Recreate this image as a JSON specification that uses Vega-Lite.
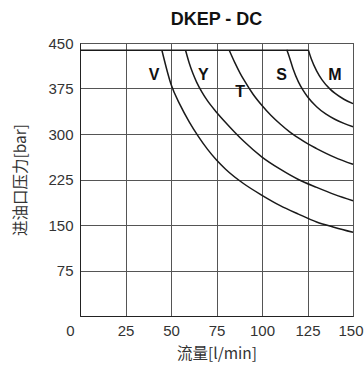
{
  "$schema": "https://vega.github.io/schema/vega-lite/v6.json",
  "autosize": "none",
  "width": 273,
  "height": 273,
  "padding": {"left": 80, "top": 43, "right": 11, "bottom": 54},
  "title": {"text": "DKEP - DC", "font": "Liberation Sans", "fontSize": 18, "fontWeight": "bold", "color": "#111", "offset": 7, "anchor": "middle"},
  "config": {
    "view": {"stroke": "#333", "strokeWidth": 1},
    "font": "Liberation Sans",
    "axis": {"labelFont": "Liberation Sans", "labelFontSize": 15, "labelColor": "#333", "titleFont": "Noto Sans CJK SC", "titleFontSize": 15.5, "titleFontWeight": "normal", "titleColor": "#333", "ticks": false, "domainColor": "#222", "gridColor": "#555", "gridOpacity": 1, "gridWidth": 1}
  },
  "datasets": {
    "curves": [
      {"s": "top", "q": 0, "p": 438}, {"s": "top", "q": 125.5, "p": 438},
      {"s": "V", "q": 45, "p": 438}, {"s": "V", "q": 50, "p": 382}, {"s": "V", "q": 55, "p": 348}, {"s": "V", "q": 60, "p": 320}, {"s": "V", "q": 65, "p": 296}, {"s": "V", "q": 70, "p": 275}, {"s": "V", "q": 75, "p": 257}, {"s": "V", "q": 80, "p": 242}, {"s": "V", "q": 90, "p": 218}, {"s": "V", "q": 100, "p": 199}, {"s": "V", "q": 110, "p": 182}, {"s": "V", "q": 120, "p": 168}, {"s": "V", "q": 130, "p": 155}, {"s": "V", "q": 140, "p": 146}, {"s": "V", "q": 150, "p": 138},
      {"s": "Y", "q": 58, "p": 438}, {"s": "Y", "q": 60, "p": 417}, {"s": "Y", "q": 62, "p": 400}, {"s": "Y", "q": 64, "p": 386}, {"s": "Y", "q": 67, "p": 369}, {"s": "Y", "q": 70, "p": 355}, {"s": "Y", "q": 75, "p": 336}, {"s": "Y", "q": 80, "p": 319}, {"s": "Y", "q": 85, "p": 303}, {"s": "Y", "q": 90, "p": 288}, {"s": "Y", "q": 100, "p": 262}, {"s": "Y", "q": 110, "p": 242}, {"s": "Y", "q": 120, "p": 225}, {"s": "Y", "q": 130, "p": 212}, {"s": "Y", "q": 140, "p": 200}, {"s": "Y", "q": 150, "p": 190},
      {"s": "T", "q": 82, "p": 438}, {"s": "T", "q": 85, "p": 418}, {"s": "T", "q": 88, "p": 400}, {"s": "T", "q": 90, "p": 389.5}, {"s": "T", "q": 95, "p": 366}, {"s": "T", "q": 100, "p": 347}, {"s": "T", "q": 105, "p": 330.5}, {"s": "T", "q": 110, "p": 316.5}, {"s": "T", "q": 115, "p": 304}, {"s": "T", "q": 120, "p": 293.5}, {"s": "T", "q": 125, "p": 284}, {"s": "T", "q": 130, "p": 276}, {"s": "T", "q": 140, "p": 261.5}, {"s": "T", "q": 150, "p": 250},
      {"s": "S", "q": 113.6, "p": 439}, {"s": "S", "q": 115, "p": 427}, {"s": "S", "q": 117, "p": 408}, {"s": "S", "q": 120, "p": 386}, {"s": "S", "q": 122.7, "p": 371.5}, {"s": "S", "q": 125, "p": 361.5}, {"s": "S", "q": 130, "p": 345}, {"s": "S", "q": 135, "p": 333}, {"s": "S", "q": 140, "p": 324.3}, {"s": "S", "q": 145, "p": 317.5}, {"s": "S", "q": 150, "p": 312},
      {"s": "M", "q": 125.5, "p": 438}, {"s": "M", "q": 127, "p": 424.3}, {"s": "M", "q": 130, "p": 404}, {"s": "M", "q": 133, "p": 389.2}, {"s": "M", "q": 137.4, "p": 374}, {"s": "M", "q": 140, "p": 367.3}, {"s": "M", "q": 145, "p": 357.3}, {"s": "M", "q": 150, "p": 350}
    ],
    "labels": [
      {"t": "V", "q": 40.7, "p": 397}, {"t": "Y", "q": 67.8, "p": 397}, {"t": "T", "q": 88, "p": 370}, {"t": "S", "q": 110.8, "p": 397}, {"t": "M", "q": 140, "p": 397}
    ]
  },
  "layer": [
    {
      "data": {"name": "curves"},
      "mark": {"type": "line", "interpolate": "monotone", "color": "#1a1a1a", "strokeWidth": 1.5},
      "encoding": {
        "x": {"field": "q", "type": "quantitative", "scale": {"domain": [0, 150], "nice": false}, "axis": {"title": "流量[l/min]", "values": [0, 25, 50, 75, 100, 125, 150], "labelPadding": 7, "titlePadding": 8, "labelAlign": {"condition": {"test": "datum.value == 0 || datum.value == 150", "value": "right"}, "value": "center"}, "labelOffset": {"condition": [{"test": "datum.value == 0", "value": -6}, {"test": "datum.value == 150", "value": 10}], "value": 0}}},
        "y": {"field": "p", "type": "quantitative", "scale": {"domain": [0, 450], "nice": false}, "axis": {"title": "进油口压力[bar]", "values": [75, 150, 225, 300, 375, 450], "labelPadding": 7, "titlePadding": 19}},
        "detail": {"field": "s", "type": "nominal"},
        "order": {"field": "q", "type": "quantitative"}
      }
    },
    {
      "data": {"name": "labels"},
      "mark": {"type": "text", "font": "Liberation Sans", "fontSize": 16, "fontWeight": "bold", "color": "#111", "align": "center", "baseline": "middle"},
      "encoding": {
        "x": {"field": "q", "type": "quantitative"},
        "y": {"field": "p", "type": "quantitative"},
        "text": {"field": "t", "type": "nominal"}
      }
    }
  ]
}
